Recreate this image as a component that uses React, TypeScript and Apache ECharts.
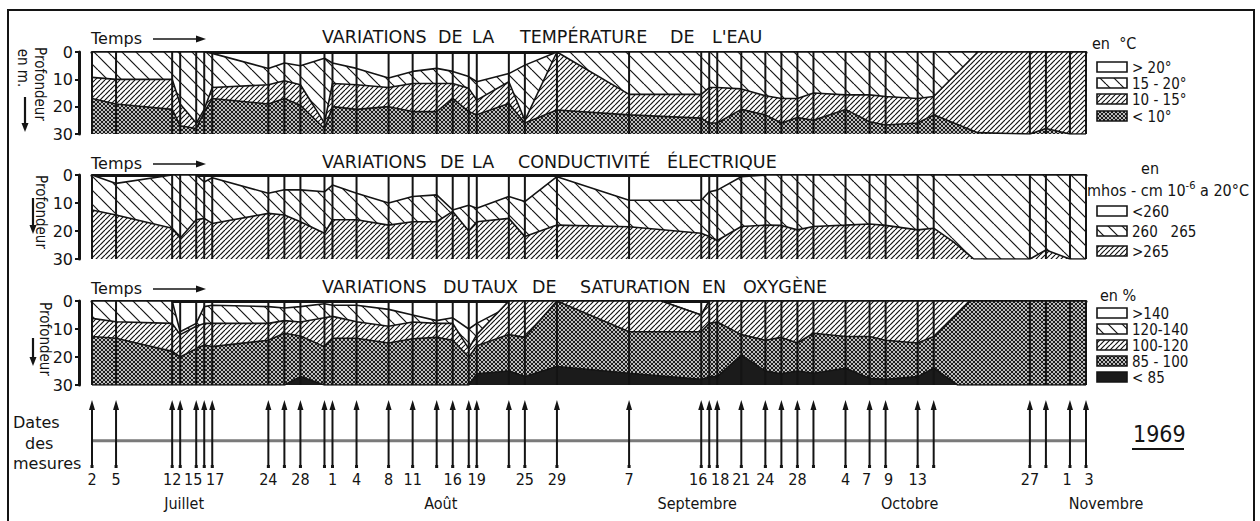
import React, { useEffect, useRef } from 'react';
import * as echarts from 'echarts';

// Measurement days, counted from 1 July 1969 (1 = 2 July … 125 = 3 November)
const measureDays = [1, 4, 11, 12, 14, 15, 16, 23, 25, 27, 30, 31, 34, 38, 41, 44, 46, 48, 49, 53, 55, 59, 68, 77, 78, 79, 82, 85, 87, 89, 91, 95, 98, 100, 104, 106, 118, 120, 123, 125];
const dayLabels = ['2', '5', '12', '', '15', '', '17', '24', '', '28', '', '1', '4', '8', '11', '', '16', '', '19', '', '25', '29', '7', '16', '', '18', '21', '24', '', '28', '', '4', '7', '9', '13', '', '27', '', '1', '3'];
const monthNames = ['Juillet', 'Août', 'Septembre', 'Octobre', 'Novembre'];
const monthLabelDays = [12.5, 44.5, 76.5, 103, 127.5];

// Water temperature: depth (m) of the 20°, 15° and 10° limits
const temp20 = [0, 0, 0, 0, 0, 0, 0.5, 6, 4, 5, 2.3, 4, 6, 9.5, 7.1, 6, 7.1, 9, 10.9, 7.9, 4.8, 0, 0, 0, 0, 0, 0, 0, 0, 0, 0, 0, 0, 0, 0, 0, 0, 0, 0, 0];
const temp15 = [9.3, 10, 10, 19, 26, 21, 13, 12, 10.5, 12, 26, 11.5, 12, 13, 11.5, 11.5, 11.5, 13.3, 17.6, 10.9, 25, 0, 15.5, 15.5, 13, 13, 13.5, 16, 17, 17, 15, 15.7, 15.7, 16.3, 17, 16.3, 0, 0, 0, 0];
const temp10 = [17, 19, 21, 27, 28, 22, 17, 19, 17, 19.5, 28, 20, 21, 20, 21.8, 21.8, 17, 21.8, 23, 18.8, 26, 21.2, 23, 24.2, 26, 26, 21, 23, 26, 24, 25, 21, 25.5, 26.7, 26, 23, 30, 28, 30, 30];
const temp15Extra = [[111.5, 0]];
const temp10Extra = [[111.5, 29.5]];

// Electrical conductivity: depth (m) of the 260 and 265 limits
const cond260 = [0, 3, 0, 0, 0, 2.5, 1, 6.5, 5.3, 5.3, 6, 3.6, 6.5, 10, 7.7, 7.1, 12.5, 10.8, 11.9, 7.7, 9.5, 0.6, 9, 9, 6, 5.4, 0.6, 0, 0, 0, 0, 0, 0, 0, 0, 0, 0, 0, 0, 0];
const cond265 = [12.5, 14.3, 19, 22.6, 16, 15.5, 17.3, 13.7, 14.3, 16.7, 20.8, 16, 16, 17.9, 16.7, 16.7, 13, 20, 16.7, 15.5, 22, 17.9, 18.5, 20.8, 22, 23.4, 18.4, 17.9, 18, 19.6, 18.4, 17.9, 17.5, 18, 19.6, 19, 30, 26.8, 30, 30];
const cond265Extra = [[108.5, 24], [111, 30]];

// Oxygen saturation: depth (m) of the 140, 120, 100 and 85 % limits
const oxy140 = [0, 0, 0, 11, 8, 2, 1.5, 2, 2.5, 2, 1, 1.5, 1.5, 3, 5, 7, 6, 10, 8, 2, 0, 0, 0, 5, 0, 0, 0, 0, 0, 0, 0, 0, 0, 0, 0, 0, 0, 0, 0, 0];
const oxy120 = [6.2, 7.4, 8, 12, 9, 8, 8, 8, 7, 7.5, 6, 5.5, 7.4, 9, 7.5, 8, 8, 17, 12, 0, 0, 0, 0, 5, 0, 0, 0, 0, 0, 0, 0, 0, 0, 0, 0, 0, 0, 0, 0, 0];
const oxy100 = [12.7, 13.3, 18, 20, 17, 15.7, 16.3, 14, 11.5, 12.5, 16.3, 13.3, 13.3, 15, 13.5, 13, 14, 20, 16, 12, 13, 0, 11, 11, 8, 7.5, 12, 14, 13, 15, 11.5, 12.7, 12.7, 14, 15, 12.7, 0, 0, 0, 0];
const oxy85 = [30, 30, 30, 30, 30, 30, 30, 30, 30, 27, 30, 30, 30, 30, 30, 30, 30, 30, 26, 25, 27, 23.4, 25.8, 28, 27, 27, 19.3, 25, 26, 25, 25.8, 24, 27.6, 28, 27, 24, 30, 30, 30, 30];
const oxy140Extra = [[72, 0]];
const oxy120Extra = [[72, 0]];
const oxy100Extra = [[110.5, 0]];
const oxy85Extra = [[109, 30]];

const depthTicks = [0, 10, 20, 30];

const tempClasses = ['> 20°', '15 - 20°', '10 - 15°', '< 10°'];
const condClasses = ['<260', '260   265', '>265'];
const oxyClasses = ['>140', '120-140', '100-120', '85 - 100', '< 85'];

// panel titles, word by word with their left edges
const titleWords = [
  [['VARIATIONS', 322], ['DE', 438], ['LA', 472], ['TEMPÉRATURE', 520], ['DE', 670], ["L'EAU", 712]],
  [['VARIATIONS', 322], ['DE', 440], ['LA', 472], ['CONDUCTIVITÉ', 518], ['ÉLECTRIQUE', 667]],
  [['VARIATIONS', 322], ['DU', 443], ['TAUX', 472], ['DE', 532], ['SATURATION', 580], ['EN', 702], ['OXYGÈNE', 743]],
];

const FONT = '"DejaVu Sans", sans-serif';
const COND = '"DejaVu Sans Condensed", "DejaVu Sans", sans-serif';
const INK = '#141414';

function toPairs(depths: number[], extra: number[][] = []) {
  const pts = measureDays.map((d, i) => [d, depths[i]]).concat(extra);
  pts.sort((a, b) => a[0] - b[0]);
  return pts;
}

// nudge a date label away from a labelled neighbour that is at most 2 days off
function labelShift(i: number) {
  if (!dayLabels[i]) return 0;
  let s = 0;
  for (let j = i - 1; j >= 0; j--) {
    if (dayLabels[j]) { if (measureDays[i] - measureDays[j] <= 2) s += 3; break; }
  }
  for (let j = i + 1; j < measureDays.length; j++) {
    if (dayLabels[j]) { if (measureDays[j] - measureDays[i] <= 2) s -= 3; break; }
  }
  return s;
}

function makeFill(kind: string): any {
  if (kind === 'white') return '#ffffff';
  const s = kind === 'wide' ? 14 : kind === 'dense' ? 5 : 4;
  const c = document.createElement('canvas');
  c.width = s;
  c.height = s;
  const ctx = c.getContext('2d')!;
  ctx.fillStyle = '#ffffff';
  ctx.fillRect(0, 0, s, s);
  ctx.strokeStyle = INK;
  if (kind === 'wide' || kind === 'cross') {
    ctx.lineWidth = kind === 'wide' ? 1.2 : 1.1;
    for (const k of [-1, 0, 1]) {
      ctx.beginPath();
      ctx.moveTo(k * s, 0);
      ctx.lineTo(k * s + s, s);
      ctx.stroke();
    }
  }
  if (kind === 'dense' || kind === 'cross') {
    ctx.lineWidth = kind === 'dense' ? 1.2 : 1.1;
    for (const k of [-1, 0, 1]) {
      ctx.beginPath();
      ctx.moveTo(k * s, s);
      ctx.lineTo(k * s + s, 0);
      ctx.stroke();
    }
  }
  if (kind === 'black') {
    ctx.fillStyle = '#1b1b1b';
    ctx.fillRect(0, 0, s, s);
  }
  return { image: c, repeat: 'repeat', imageWidth: s, imageHeight: s };
}

export default function App() {
  const ref = useRef<HTMLDivElement>(null);

  useEffect(() => {
    if (!ref.current) return;
    const chart = echarts.init(ref.current, undefined, { renderer: 'svg' });

    const panels = [
      {
        top: 52, height: 82, titleY: 37,
        bounds: [toPairs(temp20), toPairs(temp15, temp15Extra), toPairs(temp10, temp10Extra)],
        kinds: ['white', 'wide', 'dense', 'cross'],
        classes: tempClasses,
        rows: [67, 83, 99, 116],
      },
      {
        top: 175, height: 84, titleY: 162,
        bounds: [toPairs(cond260), toPairs(cond265, cond265Extra)],
        kinds: ['white', 'wide', 'dense'],
        classes: condClasses,
        rows: [211, 231, 251],
      },
      {
        top: 301, height: 84, titleY: 287,
        bounds: [toPairs(oxy140, oxy140Extra), toPairs(oxy120, oxy120Extra), toPairs(oxy100, oxy100Extra), toPairs(oxy85, oxy85Extra)],
        kinds: ['white', 'wide', 'dense', 'cross', 'black'],
        classes: oxyClasses,
        rows: [313, 329, 345, 361, 377],
      },
    ];

    const fills: Record<string, any> = {};
    ['white', 'wide', 'dense', 'cross', 'black'].forEach((k) => (fills[k] = makeFill(k)));

    const GRID_LEFT = 92;
    const GRID_W = 994;
    const grid: any[] = [];
    const xAxis: any[] = [];
    const yAxis: any[] = [];
    const series: any[] = [];
    const graphic: any[] = [];

    panels.forEach((p, g) => {
      grid.push({ left: GRID_LEFT, top: p.top, width: GRID_W, height: p.height });
      xAxis.push({
        type: 'value', gridIndex: g, min: 1, max: 125, position: 'bottom',
        axisLine: { show: true, lineStyle: { color: INK, width: 3 } },
        axisTick: { show: false }, axisLabel: { show: false }, splitLine: { show: false },
      });
      xAxis.push({
        type: 'value', gridIndex: g, min: 1, max: 125, position: 'top',
        axisLine: { show: true, lineStyle: { color: INK, width: 1.5, type: [2, 2] } },
        axisTick: { show: false }, axisLabel: { show: false }, splitLine: { show: false },
      });
      yAxis.push({
        type: 'value', gridIndex: g, min: 0, max: 30, interval: 10, inverse: true, offset: 13,
        axisLine: { show: true, lineStyle: { color: INK, width: 3 } },
        axisTick: { show: true, length: 4, lineStyle: { color: INK, width: 2 } },
        axisLabel: { color: INK, fontSize: 16, fontFamily: FONT, margin: 6, customValues: depthTicks },
        splitLine: { show: false },
      });
      p.bounds.forEach((data, i) => {
        series.push({
          type: 'line', xAxisIndex: 2 * g, yAxisIndex: g, data, symbol: 'none', silent: true,
          lineStyle: { color: INK, width: 1.6 },
          areaStyle: { origin: 'end', color: fills[p.kinds[i + 1]], opacity: 1 },
          z: 2 + i,
        });
      });
      // vertical line at every measurement date
      series.push({
        type: 'custom', xAxisIndex: 2 * g, yAxisIndex: g, silent: true, z: 10,
        data: measureDays.map((d) => [d, 0]),
        encode: { x: 0, y: 1 },
        renderItem: (params: any, api: any) => {
          const a = api.coord([api.value(0), 0]);
          const b = api.coord([api.value(0), 30]);
          return { type: 'line', shape: { x1: a[0], y1: a[1], x2: b[0], y2: b[1] }, style: { stroke: INK, lineWidth: 2 } };
        },
      });

      // "Temps →" and the panel title
      graphic.push({ type: 'text', x: 91, y: p.titleY + 1, style: { text: 'Temps', font: `16px ${FONT}`, fill: INK, verticalAlign: 'middle' } });
      graphic.push({ type: 'line', shape: { x1: 153, y1: p.titleY + 2, x2: 198, y2: p.titleY + 2 }, style: { stroke: INK, lineWidth: 1.6 } });
      graphic.push({ type: 'polygon', shape: { points: [[206, p.titleY + 2], [196, p.titleY - 1.5], [196, p.titleY + 5.5]] }, style: { fill: INK } });
      titleWords[g].forEach(([w, x]) => {
        graphic.push({ type: 'text', x, y: p.titleY, style: { text: w, font: `17.5px ${FONT}`, fill: INK, verticalAlign: 'middle' } });
      });

      // legend
      p.classes.forEach((c, i) => {
        graphic.push({ type: 'rect', shape: { x: 1097, y: p.rows[i] - 5, width: 30, height: 10 }, style: { fill: fills[p.kinds[i]], stroke: INK, lineWidth: 1.6 } });
        graphic.push({ type: 'text', x: 1132, y: p.rows[i] + 1, style: { text: c, font: `15px ${COND}`, fill: INK, verticalAlign: 'middle', lineHeight: 14 } });
      });
    });

    // depth captions
    const rot = -Math.PI / 2;
    const vText = (x: number, y: number, text: string) =>
      graphic.push({ type: 'text', x, y, rotation: rot, style: { text, font: `15px ${COND}`, fill: INK, align: 'center', verticalAlign: 'middle' } });
    vText(40, 84, 'Profondeur');
    vText(23, 68, 'en m.');
    vText(41, 212, 'Profondeur');
    vText(45, 339, 'Profondeur');
    const downArrows = [[25, 97, 132], [33, 198, 234], [33, 338, 366]];
    downArrows.forEach(([x, y1, y2]) => {
      graphic.push({ type: 'line', shape: { x1: x, y1, x2: x, y2: y2 - 6 }, style: { stroke: INK, lineWidth: 2.2 } });
      graphic.push({ type: 'polygon', shape: { points: [[x, y2], [x - 3.5, y2 - 9], [x + 3.5, y2 - 9]] }, style: { fill: INK } });
    });

    // legend headers
    graphic.push({ type: 'text', x: 1092, y: 43, style: { text: 'en  °C', font: `16px ${COND}`, fill: INK, verticalAlign: 'middle' } });
    graphic.push({ type: 'text', x: 1150, y: 168, style: { text: 'en', font: `16px ${COND}`, fill: INK, align: 'center', verticalAlign: 'middle' } });
    graphic.push({
      type: 'text', x: 1087, y: 190,
      style: {
        text: 'mhos - cm 10{s|-6} a 20°C', font: `16px ${COND}`, fill: INK, verticalAlign: 'middle',
        rich: { s: { fontSize: 11, fontFamily: COND, verticalAlign: 'top', padding: [0, 0, 10, 0], fill: INK } },
      },
    });
    graphic.push({ type: 'text', x: 1100, y: 295, style: { text: 'en %', font: `16px ${COND}`, fill: INK, verticalAlign: 'middle' } });

    // timeline of measurement dates
    grid.push({ left: GRID_LEFT, top: 400, width: GRID_W, height: 68 });
    xAxis.push({ type: 'value', gridIndex: 3, min: 1, max: 125, show: false });
    yAxis.push({ type: 'value', gridIndex: 3, min: 0, max: 1, show: false });
    series.push({
      type: 'line', xAxisIndex: 6, yAxisIndex: 3, silent: true, symbol: 'none', z: 2,
      data: [[1, 0.4], [125, 0.4]], lineStyle: { color: '#7a7a7a', width: 3 },
    });
    series.push({
      type: 'custom', xAxisIndex: 6, yAxisIndex: 3, silent: true, z: 5, clip: false,
      data: measureDays.map((d) => [d, 0]),
      encode: { x: 0, y: 1 },
      renderItem: (params: any, api: any) => {
        const b = api.coord([api.value(0), 0]);
        const t = api.coord([api.value(0), 1]);
        const x = b[0];
        return {
          type: 'group',
          children: [
            { type: 'line', shape: { x1: x, y1: t[1] + 6, x2: x, y2: b[1] }, style: { stroke: INK, lineWidth: 2 } },
            { type: 'polygon', shape: { points: [[x, t[1]], [x - 3, t[1] + 10], [x + 3, t[1] + 10]] }, style: { fill: INK } },
            { type: 'rect', shape: { x: x - 1.5, y: b[1] - 3, width: 3, height: 3 }, style: { fill: INK } },
            {
              type: 'text', x: x + labelShift(params.dataIndex), y: b[1] + 11,
              style: { text: dayLabels[params.dataIndex], font: `16px ${COND}`, fill: INK, align: 'center', verticalAlign: 'middle' },
            },
          ],
        };
      },
    });
    series.push({
      type: 'custom', xAxisIndex: 6, yAxisIndex: 3, silent: true, z: 5, clip: false,
      data: monthLabelDays.map((d) => [d, 0]),
      encode: { x: 0, y: 1 },
      renderItem: (params: any, api: any) => {
        const b = api.coord([api.value(0), 0]);
        return { type: 'text', x: b[0], y: b[1] + 35, style: { text: monthNames[params.dataIndex], font: `16px ${COND}`, fill: INK, align: 'center', verticalAlign: 'middle' } };
      },
    });

    graphic.push({ type: 'text', x: 13, y: 422, style: { text: 'Dates', font: `16px ${FONT}`, fill: INK, verticalAlign: 'middle' } });
    graphic.push({ type: 'text', x: 25, y: 443, style: { text: 'des', font: `16px ${FONT}`, fill: INK, verticalAlign: 'middle' } });
    graphic.push({ type: 'text', x: 13, y: 463, style: { text: 'mesures', font: `16px ${FONT}`, fill: INK, verticalAlign: 'middle' } });
    graphic.push({ type: 'text', x: 1133, y: 434, style: { text: '1969', font: `23px ${COND}`, fill: INK, verticalAlign: 'middle' } });
    graphic.push({ type: 'line', shape: { x1: 1132, y1: 449, x2: 1184, y2: 449 }, style: { stroke: INK, lineWidth: 2 } });

    // outer frame
    graphic.push({ type: 'polyline', shape: { points: [[8, 530], [8, 10], [1254, 10], [1254, 530]] }, style: { fill: 'none', stroke: INK, lineWidth: 2 } });

    chart.setOption({
      animation: false,
      backgroundColor: '#ffffff',
      grid, xAxis, yAxis, series, graphic,
    });
    return () => chart.dispose();
  }, []);

  return <div ref={ref} style={{ position: 'absolute', left: 0, top: 0, width: 1260, height: 521, background: '#fff' }} />;
}
